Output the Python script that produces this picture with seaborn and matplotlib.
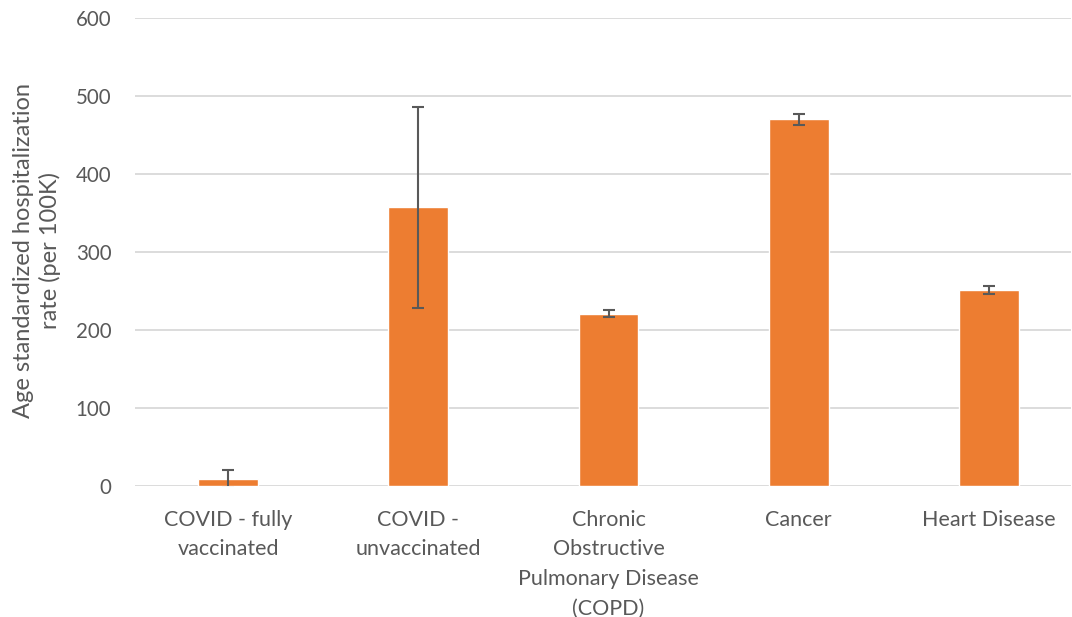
import matplotlib
matplotlib.use("Agg")
import matplotlib.pyplot as plt
import seaborn as sns
import pandas as pd
import numpy as np

categories = ["COVID - fully\nvaccinated", "COVID -\nunvaccinated",
              "Chronic\nObstructive\nPulmonary Disease\n(COPD)", "Cancer", "Heart Disease"]
rates = [9.3, 356.8, 220.0, 469.5, 250.6]
upper = [20.5, 485.6, 225.3, 476.0, 256.5]
lower = [-2.0, 227.5, 216.0, 462.6, 245.8]
yticks = [0, 100, 200, 300, 400, 500, 600]

sns.set_theme(style="white")
plt.rcParams['font.family'] = ['Lato', 'DejaVu Sans']

df = pd.DataFrame({"category": categories, "rate": rates})

fig = plt.figure(figsize=(10.72, 6.17), dpi=100)
ax = fig.add_axes([135/1072, 1 - 486/617, 936/1072, (486-17.5)/617])

ax.set_axisbelow(True)
for t in yticks:
    ax.axhline(t, color="#d9d9d9", lw=1.3, zorder=0)

sns.barplot(data=df, x="category", y="rate", color="#ED7D31", saturation=1,
            width=0.315, ax=ax, errorbar=None, zorder=2)

x = np.arange(len(categories))
r = np.array(rates)
yerr = np.vstack([r - np.array(lower), np.array(upper) - r])
ax.errorbar(x, r, yerr=yerr, fmt="none", ecolor="#595959", elinewidth=1.5,
            capsize=4.3, capthick=1.5, zorder=3)

ax.set_ylim(0, 600)
ax.set_xlim(-0.489, 4.431)
ax.set_yticks(yticks)
ax.set_yticklabels([str(t) for t in yticks], color="#595959", fontsize=14.8)
ax.tick_params(axis="y", length=0, pad=17)
ax.tick_params(axis="x", length=0, pad=17)
ax.set_xticks(x)
ax.set_xticklabels(categories, color="#595959", fontsize=15.5, linespacing=1.6)
ax.set_xlabel("")
ax.set_ylabel("Age standardized hospitalization\nrate (per 100K)", color="#595959",
              fontsize=17, linespacing=1.27)
ax.yaxis.label.set_verticalalignment("center")
ax.yaxis.set_label_coords(-(135 - 37) / 936, (486 - 250.5) / 468.5)
for s in ax.spines.values():
    s.set_visible(False)

fig.savefig("out.png", dpi=100)
